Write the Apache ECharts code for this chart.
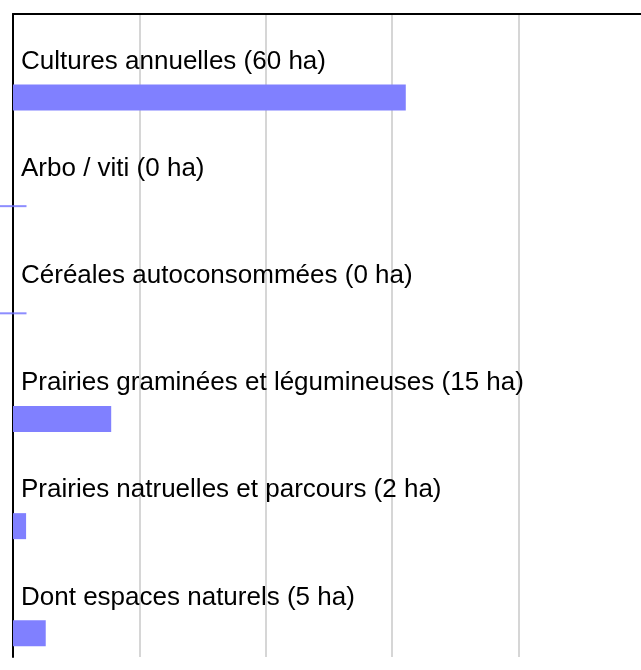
<!DOCTYPE html>
<html>
<head>
<meta charset="utf-8">
<script src="https://cdn.jsdelivr.net/npm/echarts@6/dist/echarts.min.js"></script>
<style>
	html, body { margin: 0; padding: 0; background: #fff; }
	#chart { width: 641px; height: 670px; }
</style>
</head>
<body>
<div id="chart"></div>
<script>
	// catégories et surfaces (ha)
	var categories = ['Cultures annuelles', 'Arbo / viti', 'Céréales autoconsommées', 'Prairies graminées et légumineuses', 'Prairies natruelles et parcours', 'Dont espaces naturels'];
	var surfaces = [60, 0, 0, 15, 2, 5];

	var labels = categories.map(function(c, i) {
		return c + ' (' + surfaces[i] + ' ha)';
	});

	var chart = echarts.init(document.getElementById('chart'));
	var option = {
		animation: false,
		grid: {
			left: 13,
			width: 635,
			top: 14,
			bottom: 13,
			outerBoundsMode: 'none'
		},
		xAxis: {
			type: 'value',
			position: 'top',
			min: 0,
			max: 97,
			interval: 19.3,
			axisLine: {
				show: true,
				lineStyle: { color: '#000', width: 2 }
			},
			axisTick: { show: false },
			axisLabel: { show: false },
			splitLine: {
				show: true,
				lineStyle: { color: '#c8c8c8', width: 1.5 }
			}
		},
		yAxis: {
			type: 'category',
			inverse: true,
			data: labels,
			axisLine: {
				show: true,
				lineStyle: { color: '#000', width: 2 }
			},
			axisTick: { show: false },
			axisLabel: {
				inside: true,
				margin: 8,
				color: '#000',
				fontFamily: 'Liberation Sans',
				fontSize: 26,
				verticalAlign: 'bottom',
				lineHeight: 12
			},
			splitLine: { show: false }
		},
		series: [{
				// série vide pour décaler la barre vers le bas de la bande
				type: 'bar',
				data: surfaces.map(function() { return 0; }),
				barWidth: 26,
				barGap: '130%',
				itemStyle: { color: 'rgba(0,0,0,0)' },
				silent: true
			},
			{
				type: 'bar',
				data: surfaces,
				barWidth: 26,
				barGap: '130%',
				itemStyle: { color: '#8080ff' }
			},
			{
				// trait pour les valeurs nulles
				type: 'scatter',
				data: surfaces.map(function(v) { return v === 0 ? 0 : '-'; }),
				symbol: 'rect',
				symbolSize: [27, 2],
				symbolOffset: [0, 31.4],
				itemStyle: { color: '#7070ff' },
				z: 5
			}
		]
	};
	chart.setOption(option);
</script>
</body>
</html>
